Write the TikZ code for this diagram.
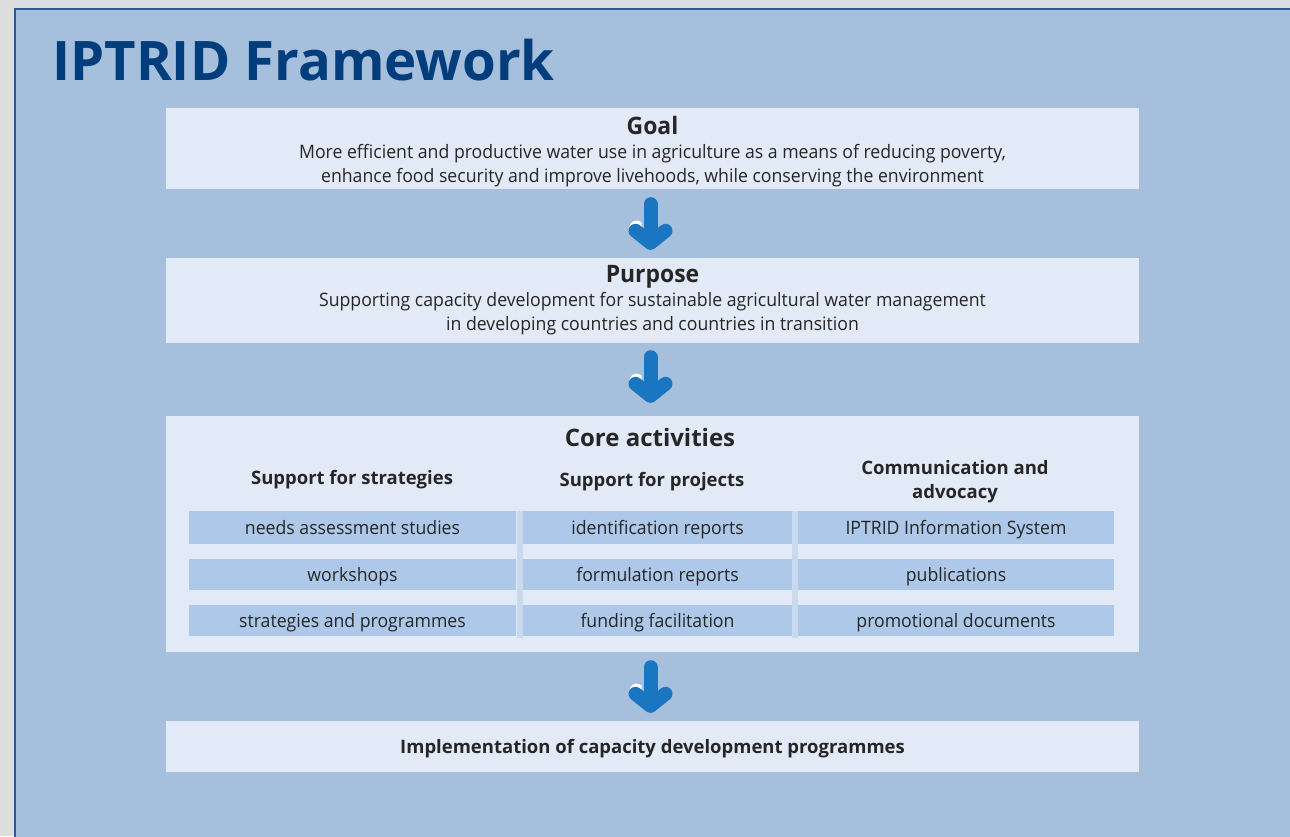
\documentclass[tikz,border=0pt]{standalone}
\usepackage{fontspec}
\usetikzlibrary{arrows.meta}
\setmainfont{Open Sans}
\newfontfamily\condfont[FakeStretch=0.955]{Open Sans}

\definecolor{pagegray}{HTML}{DCDDDF}
\definecolor{panelblue}{HTML}{A5BFDD}
\definecolor{frameblue}{HTML}{2B5B95}
\definecolor{boxlight}{HTML}{E1EAF6}
\definecolor{barblue}{HTML}{ADC8E9}
\definecolor{seplight}{HTML}{C9DAEF}
\definecolor{titleblue}{HTML}{003D7C}
\definecolor{arrowblue}{HTML}{1B76C1}
\definecolor{textdark}{HTML}{262626}

\newcommand{\bodysize}{\condfont\fontsize{18.5}{24.5}\selectfont}
\newcommand{\headsize}{\bfseries\fontsize{24}{26}\selectfont}
\newcommand{\subsize}{\bfseries\fontsize{18.5}{24}\selectfont}

% blue down arrow with a small white gleam on its left shoulder
\newcommand{\flowarrow}[4]{%
  \begin{scope}
    \clip ([xshift=-23pt]#1.south) rectangle ([xshift=-11pt]#2.north);
    \draw[flow, white, shorten <=#3, shorten >=#4]
      ([shift={(-1,-3.2)}]#1.south) -- ([shift={(-1,-3.2)}]#2.north);
  \end{scope}
  \draw[flow, shorten <=#3, shorten >=#4]
    ([xshift=-2pt]#1.south) -- ([xshift=-2pt]#2.north);}

\tikzset{
  box/.style={fill=boxlight, inner sep=0pt, minimum width=973pt, align=center,
    text=textdark, font=\bodysize},
  bar/.style={fill=barblue, inner sep=0pt, text=textdark, font=\bodysize,
    text height=15pt, text depth=2pt},
  colhead/.style={align=center, text=textdark, font=\subsize},
  flow/.style={arrowblue, line width=14pt, line cap=round,
    -{Straight Barb[round, length=12pt, width=30pt]}}
}

\begin{document}
\begin{tikzpicture}[x=1pt, y=-1pt]
  \useasboundingbox (0,0) rectangle (1290,836);
  \fill[pagegray] (0,0) rectangle (1290,836);
  \fill[panelblue] (15,9) rectangle (1295,840);
  \draw[frameblue, line width=2pt] (15,840) -- (15,9) -- (1295,9);

  \node[anchor=base west, inner sep=0pt, text=titleblue,
    font=\fontsize{54.5}{60}\selectfont\bfseries]
    (title) at (52,80) {IPTRID Framework};

  % the three stages and the outcome
  \node[box, minimum height=81pt] (goal) at (652.5,148.5)
    {{\headsize\rule{0pt}{24pt}Goal}\\[0pt]
     More efficient and productive water use in agriculture as a means of reducing poverty,\\[-1pt]
     enhance food security and improve livehoods, while conserving the environment};
  \node[box, minimum height=85pt] (purpose) at (652.5,300.5)
    {{\headsize Purpose}\\[-1pt]
     Supporting capacity development for sustainable agricultural water management\\
     in developing countries and countries in transition};
  \node[box, minimum height=236pt] (core) at (652.5,534) {};
  \node[box, minimum height=51pt, font=\subsize, text height=15pt, text depth=2pt]
    (impl) at (652.5,746.5) {Implementation of capacity development programmes};

  \node[text=textdark, font=\headsize] (coretitle) at (650,437) {Core activities};
  \node[colhead] (strat) at (352,480) {Support for strategies};
  \node[colhead] (proj) at (652,482) {Support for projects};
  \node[colhead] (comm) at (955,482) {Communication and\\advocacy};

  % column separators
  \fill[seplight] (516.5,511) rectangle (523,638);
  \fill[seplight] (792,511) rectangle (798,638);

  \foreach \r/\y/\h/\a/\b/\c in {
      1/527.5/33/needs assessment studies/identification reports/IPTRID Information System,
      2/574.5/31/workshops/formulation reports/publications,
      3/620.5/31/strategies and programmes/funding facilitation/promotional documents} {
    \node[bar, minimum width=327pt, minimum height=\h pt] (s\r) at (352.5,\y) {\a};
    \node[bar, minimum width=269pt, minimum height=\h pt] (p\r) at (657.5,\y) {\b};
    \node[bar, minimum width=316pt, minimum height=\h pt] (c\r) at (956,\y) {\c};
  }

  \flowarrow{goal}{purpose}{15pt}{8pt}
  \flowarrow{purpose}{core}{14pt}{13pt}
  \flowarrow{core}{impl}{15pt}{8pt}
\end{tikzpicture}
\end{document}
